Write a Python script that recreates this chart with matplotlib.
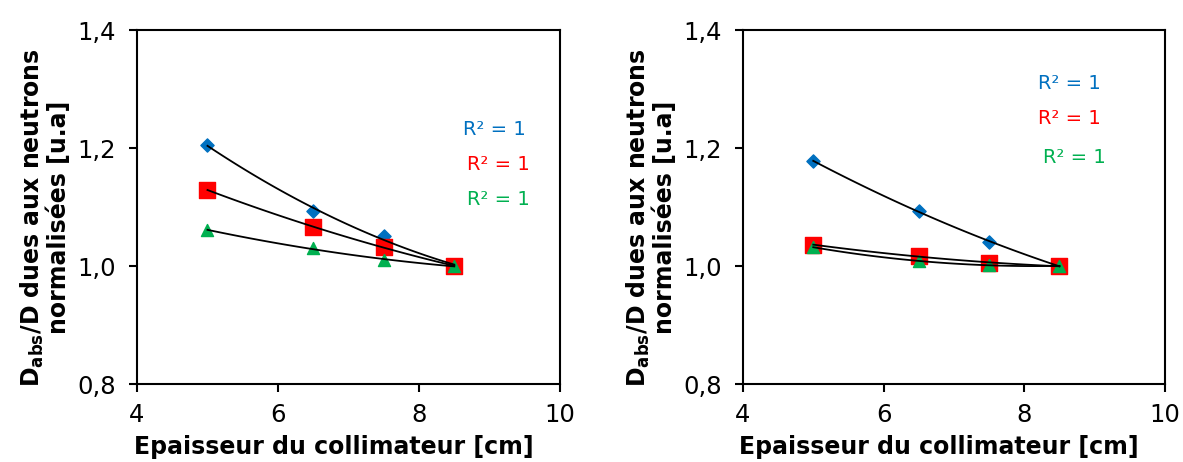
import numpy as np
import matplotlib
matplotlib.use("Agg")
import matplotlib.pyplot as plt

# epaisseur du collimateur [cm]
thickness = [5.0, 6.5, 7.5, 8.5]

# left panel
left_blue = [1.205, 1.093, 1.051, 1.000]
left_red = [1.129, 1.066, 1.032, 1.000]
left_green = [1.061, 1.030, 1.010, 1.000]

# right panel
right_blue = [1.178, 1.093, 1.041, 1.000]
right_red = [1.036, 1.017, 1.005, 1.000]
right_green = [1.032, 1.008, 1.002, 1.000]

r2_label = "R\u00b2 = 1"
colors = {"blue": "#0070C0", "red": "#FF0000", "green": "#00B050"}
plt.rcParams['font.family'] = ['DejaVu Sans']

fig = plt.figure(figsize=(11.83, 4.62), dpi=100)
ax1 = fig.add_axes([0.1158, 0.1688, 0.3576, 0.7662])
ax2 = fig.add_axes([0.628, 0.1688, 0.3567, 0.7662])


def draw_panel(ax, blue, red, green, text_pos):
    xs = np.array(thickness)
    xfit = np.linspace(xs.min(), xs.max(), 100)
    for ys in (blue, red, green):
        coef = np.polyfit(xs, ys, 2)
        ax.plot(xfit, np.polyval(coef, xfit), color="black", lw=1.3, zorder=3)
    ax.scatter(xs, blue, marker="D", s=45, color=colors["blue"], zorder=2)
    ax.scatter(xs, red, marker="s", s=120, color=colors["red"], zorder=2)
    ax.scatter(xs, green, marker="^", s=75, color=colors["green"], zorder=2)
    for (tx, ty), c in zip(text_pos, ["blue", "red", "green"]):
        ax.text(tx, ty, r2_label, color=colors[c], fontsize=14,
                ha="left", va="center", transform=ax.transAxes)
    ax.set_xlim(4, 10)
    ax.set_ylim(0.8, 1.4)
    ax.set_xticks([4, 6, 8, 10])
    ax.set_yticks([0.8, 1.0, 1.2, 1.4])
    ax.set_yticklabels(["0,8", "1,0", "1,2", "1,4"])
    ax.tick_params(axis="y", labelsize=17.5, width=1.5, length=6,
                   direction="out", pad=9)
    ax.tick_params(axis="x", labelsize=17.5, width=1.5, length=6,
                   direction="out", pad=8)
    for sp in ax.spines.values():
        sp.set_linewidth(1.5)
    ax.set_xlabel("Epaisseur du collimateur [cm]", fontsize=17, fontweight="bold")
    ax.xaxis.set_label_coords(0.465, -0.145)
    ax.set_ylabel("D$_{\\mathregular{abs}}$/D dues aux neutrons\nnormalisées [u.a]",
                  fontsize=17, fontweight="bold", linespacing=1.0)
    ax.yaxis.set_label_coords(-0.157, 0.47)


draw_panel(ax1, left_blue, left_red, left_green,
           [(0.77, 0.72), (0.78, 0.62), (0.78, 0.52)])
draw_panel(ax2, right_blue, right_red, right_green,
           [(0.70, 0.85), (0.70, 0.75), (0.71, 0.64)])

fig.savefig("out.png", dpi=100)
